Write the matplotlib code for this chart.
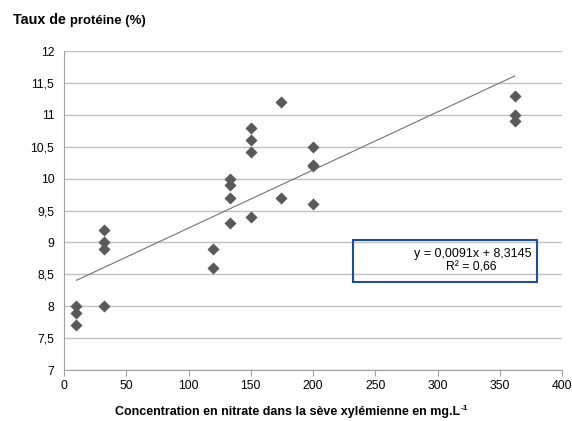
import matplotlib
matplotlib.use('Agg')
import matplotlib.pyplot as plt
import numpy as np
from matplotlib.patches import Rectangle

plt.rcParams['font.family'] = ['Liberation Sans', 'DejaVu Sans']

# nitrate concentration (mg/L) and protein rate (%)
nitrate = [10, 10, 10,
           32, 32, 32, 32,
           120, 120,
           133, 133, 133, 133,
           150, 150, 150, 150,
           174, 174,
           200, 200, 200, 200,
           362, 362, 362]
proteine = [8.0, 7.9, 7.7,
            9.2, 9.0, 8.9, 8.0,
            8.9, 8.6,
            10.0, 9.9, 9.7, 9.3,
            10.8, 10.6, 10.42, 9.4,
            11.2, 9.7,
            10.5, 10.2, 10.22, 9.6,
            11.3, 11.0, 10.9]

pente = 0.0091
origine = 8.3145
r2 = 0.66

W, H = 572, 421
fig = plt.figure(figsize=(W / 100, H / 100), dpi=100)
ax = fig.add_axes([64 / W, 1 - 370 / H, 498 / W, 319 / H])

ax.scatter(nitrate, proteine, marker='D', s=38, color='#595959', zorder=3, linewidths=0)

xt = np.array([min(nitrate), max(nitrate)])
ax.plot(xt, pente * xt + origine, color='#737373', lw=0.8, zorder=2)

ax.set_xlim(0, 400)
ax.set_ylim(7, 12)
ax.set_xticks(range(0, 401, 50))
yt = np.arange(7, 12.01, 0.5)
ax.set_yticks(yt)
ax.set_yticklabels([('%g' % v).replace('.', ',') for v in yt])
ax.grid(axis='y', color='#c0c0c0', lw=1)
ax.set_axisbelow(True)
for s in ['top', 'right']:
    ax.spines[s].set_visible(False)
for s in ['left', 'bottom']:
    ax.spines[s].set_color('#a0a0a0')
ax.tick_params(axis='y', length=0, labelsize=8.8, pad=7)
ax.tick_params(axis='x', length=4, color='#a0a0a0', labelsize=8.8, direction='out')

# equation box
ax.add_patch(Rectangle((232, 8.38), 148, 0.66, fill=False, edgecolor='#1f4e99', lw=1.5,
                       zorder=4, clip_on=False))
eq = fig.text(531 / W, 1 - 254 / H, 'y = 0,0091x + 8,3145', ha='right', va='center', fontsize=9)
rr = fig.text(446 / W, 1 - 268 / H, 'R² = 0,66', ha='left', va='center', fontsize=9)

t1 = fig.text(12.7 / W, 1 - 24 / H, 'Taux de', fontsize=11, fontweight='bold', va='baseline')
t2 = fig.text(70 / W, 1 - 24 / H, 'protéine (%)', fontsize=9.5, fontweight='bold', va='baseline')
lab = fig.text(115 / W, 1 - 412 / H, 'Concentration en nitrate dans la sève xylémienne en mg.L',
               fontsize=9.5, fontweight='bold', ha='left', va='center')


def ajuste(t, largeur):
    fig.canvas.draw()
    bb = t.get_window_extent()
    t.set_fontsize(t.get_fontsize() * largeur / bb.width)


ajuste(eq, 118)
ajuste(rr, 51)
ajuste(t1, 53)
ajuste(t2, 76)
ajuste(lab, 345)

fig.canvas.draw()
bb = lab.get_window_extent()
fig.text((bb.x1 + 1) / W, (bb.y1 - 2) / H, '-1', fontsize=6, fontweight='bold',
         ha='left', va='center')

fig.savefig('out.png', dpi=100)
